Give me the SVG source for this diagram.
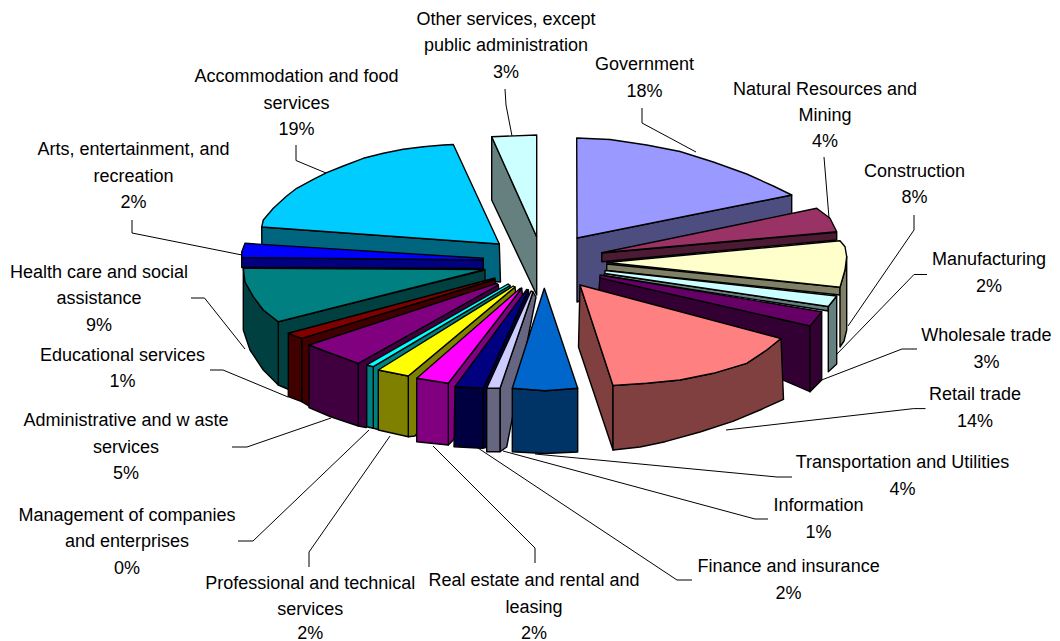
<svg xmlns="http://www.w3.org/2000/svg" width="1060" height="641" viewBox="0 0 1060 641">
<style>
polygon{stroke:#000;stroke-width:1.4;stroke-linejoin:round}
.lead{fill:none;stroke:#000;stroke-width:1}
text{font-family:"Liberation Sans",Arial,sans-serif;font-size:18px;fill:#000;text-anchor:middle}
</style>
<rect width="1060" height="641" fill="#fff"/>
<g id="other-services">
<polygon points="491.7,136.7 491.7,200 536.7,295 536.7,236.7" fill="#668080"/>
<polygon points="491.7,136.7 536.7,135 536.7,236.7" fill="#CCFFFF"/>
<text x="506" y="24.5">Other services, except</text><text x="506" y="51">public administration</text><text x="506" y="77.5">3%</text>
</g>
<g id="accommodation">
<polygon points="261.7,227 499.3,244 500.5,282 262,262" fill="#006680"/>
<polygon points="499.3,244 261.7,227 263.3,220 273.3,208.3 286.7,196 296.7,188.3 313.3,179.3 326.7,172.7 343.3,166 363.3,158.3 383.3,153.3 403.3,149.3 423.3,146.7 443.3,145 453.3,144.5" fill="#00CCFF"/>
<text x="296.5" y="82">Accommodation and food</text><text x="296.5" y="108.5">services</text><text x="296.5" y="135">19%</text>
</g>
<g id="arts">
<polygon points="241.7,257.5 483.3,260 483.3,268.5 241.7,267.5" fill="#000080"/>
<polygon points="245,243.3 483.3,258.3 483.3,260 241.7,257.5 241.7,252" fill="#0000FF"/>
<text x="133.5" y="155">Arts, entertainment, and</text><text x="133.5" y="181.5">recreation</text><text x="133.5" y="208">2%</text>
</g>
<g id="health">
<polygon points="278.3,321.7 485,270 485,285 290,390 278.3,385" fill="#004040"/>
<polygon points="243.3,268.3 245,282 253.3,296.7 263.3,310 278.3,321.7 278.3,385 263.3,370 250,350 243.3,330" fill="#004040"/>
<polygon points="243.3,268.3 485,269.5 278.3,321.7 263.3,310 253.3,296.7 245,282" fill="#008080"/>
<text x="99" y="277.5">Health care and social</text><text x="99" y="304">assistance</text><text x="99" y="330.5">9%</text>
</g>
<g id="educational">
<polygon points="301.7,338.3 495,279.5 497,300 312,408 301.7,401.7" fill="#400000"/>
<polygon points="288.3,333.3 301.7,338.3 301.7,401.7 288.3,396.7" fill="#400000"/>
<polygon points="288.3,333.3 495,278 495,279.5 301.7,338.3" fill="#800000"/>
<text x="122.5" y="360.5">Educational services</text><text x="122.5" y="387">1%</text>
</g>
<g id="administrative">
<polygon points="358.3,363.3 498.3,285 500,300 366,427.5 358.3,426" fill="#400040"/>
<polygon points="309,345 330,353 358.3,363.3 358.3,426 330,416.5 309,407.5" fill="#400040"/>
<polygon points="309,345 496.7,283.3 498.3,285 358.3,363.3 330,353" fill="#800080"/>
<text x="126" y="426">Administrative and w aste</text><text x="126" y="452.5">services</text><text x="126" y="479">5%</text>
</g>
<g id="management">
<polygon points="373.3,366.7 510,285.5 511,300 378.3,429.5 373.3,428.3" fill="#008080"/>
<polygon points="366.7,365 373.3,366.7 373.3,428.3 366.7,426.7" fill="#008080"/>
<polygon points="366.7,365 508,284 510,285.5 373.3,366.7" fill="#00FFFF"/>
<text x="127" y="520.5">Management of companies</text><text x="127" y="547">and enterprises</text><text x="127" y="573.5">0%</text>
</g>
<g id="professional">
<polygon points="408.3,376 515,287 516.5,300 415,436 408.3,436.7" fill="#808000"/>
<polygon points="378.3,370 408.3,376 408.3,436.7 378.3,430" fill="#808000"/>
<polygon points="378.3,370 513.3,286 515,287 408.3,376" fill="#FFFF00"/>
<text x="310.3" y="589">Professional and technical</text><text x="310.3" y="615">services</text><text x="310.3" y="639">2%</text>
</g>
<g id="real-estate">
<polygon points="448.3,383.3 521.7,288.3 523,300 453.3,440 448.3,445" fill="#800080"/>
<polygon points="416.7,378.3 448.3,383.3 448.3,445 416.7,441.7" fill="#800080"/>
<polygon points="416.7,378.3 520,288.5 521.7,288.3 448.3,383.3" fill="#FF00FF"/>
<text x="534" y="586">Real estate and rental and</text><text x="534" y="612.5">leasing</text><text x="534" y="639">2%</text>
</g>
<g id="finance">
<polygon points="483.3,388.3 528.3,290 530,300 488,447 482.7,448.3" fill="#000040"/>
<polygon points="455,386.7 483.3,388.3 482.7,448.3 454,446.7" fill="#000040"/>
<polygon points="455,386.7 526.7,289.5 528.3,290 483.3,388.3" fill="#000080"/>
<text x="788.6" y="572">Finance and insurance</text><text x="788.6" y="599">2%</text>
</g>
<g id="information">
<polygon points="500,388.3 533,292 536,297 506.7,447 500,451.7" fill="#666680"/>
<polygon points="486.7,388.3 500,388.3 500,451.7 486.7,451.7" fill="#666680"/>
<polygon points="486.7,388.3 531,291 533,292 500,388.3" fill="#CCCCFF"/>
<text x="818.5" y="510.5">Information</text><text x="818.5" y="537.5">1%</text>
</g>
<g id="government">
<polygon points="577,238 791.7,195 791.7,213.3 577,302" fill="#4D4D80"/>
<polygon points="577,238 576.7,138 610,139.5 646.7,145 680,151.5 713.3,162 746.7,174 773.3,186 791.7,195" fill="#9999FF"/>
<text x="644.5" y="70">Government</text><text x="644.5" y="96.5">18%</text>
</g>
<g id="natural-resources">
<polygon points="601.7,253 836.7,232.3 836.7,240 601.7,261.7" fill="#4D1A33"/>
<polygon points="601.7,252.7 816.7,208.3 830,218.3 836.7,231.7" fill="#993366"/>
<text x="825" y="94.5">Natural Resources and</text><text x="825" y="121">Mining</text><text x="825" y="147">4%</text>
</g>
<g id="construction">
<polygon points="606.7,264 840,287.3 840,295 606.7,270.5" fill="#808066"/>
<polygon points="846.7,256.7 845,270 840,287.3 840,347 844,341 846.7,330" fill="#808066"/>
<polygon points="606.7,262.5 840,240.7 845,246.7 846.7,256.7 845,270 840,287.3" fill="#FFFFCC"/>
<text x="914.5" y="176.5">Construction</text><text x="914.5" y="203">8%</text>
</g>
<g id="manufacturing">
<polygon points="605,273.5 828.3,306.5 828.3,311 603,275.5" fill="#668080"/>
<polygon points="828.3,306.5 836.7,296 836.7,364 828.3,371.7" fill="#668080"/>
<polygon points="605,270.5 836.7,296 828.3,306.5 605,273.5" fill="#CCFFFF"/>
<text x="989" y="265">Manufacturing</text><text x="989" y="291.5">2%</text>
</g>
<g id="wholesale">
<polygon points="600,277.5 810,326 810,391.7 598,300" fill="#330033"/>
<polygon points="810,326 821.7,311.7 821.7,380 810,391.7" fill="#330033"/>
<polygon points="600,275 821.7,311.7 810,326 600,278" fill="#660066"/>
<text x="986.4" y="340.5">Wholesale trade</text><text x="986.4" y="367.5">3%</text>
</g>
<g id="retail">
<polygon points="580,285 613,385.5 613,450 578.5,347" fill="#804040"/>
<polygon points="613,385.5 646.7,383.3 680,380 713.3,373.3 746.7,363.3 766.7,350 781,338.5 783.5,399.4 760,410 732.8,421.4 700,432 665.2,441.7 640,447 613,450" fill="#804040"/>
<polygon points="580,285 781,338.5 766.7,350 746.7,363.3 713.3,373.3 680,380 646.7,383.3 613,385.5" fill="#FF8080"/>
<text x="975" y="399.5">Retail trade</text><text x="975" y="426.5">14%</text>
</g>
<g id="transportation">
<polygon points="512.3,388.3 545,390.7 577.7,388.3 577.7,452 545,453.5 512.3,451.7" fill="#003366"/>
<polygon points="544.3,288.3 577.7,388.3 545,390.7 512.3,388.3" fill="#0066CC"/>
<text x="902.5" y="468">Transportation and Utilities</text><text x="902.5" y="495">4%</text>
</g>
<g id="connectors">
<polyline class="lead" points="505,89 506,105 512,136"/>
<polyline class="lead" points="642,108 642,123 696,152"/>
<polyline class="lead" points="824,157 829,218"/>
<polyline class="lead" points="914,215 914,230 848,326"/>
<polyline class="lead" points="927,274.5 914,274.5 837,354"/>
<polyline class="lead" points="917,349 902,349 819,381"/>
<polyline class="lead" points="925.5,408.6 913.7,408.6 726,430"/>
<polyline class="lead" points="792,477 777,477 535,454"/>
<polyline class="lead" points="768,519 755,519 503,451"/>
<polyline class="lead" points="692,580 677,580 478,448"/>
<polyline class="lead" points="535,563 535,548 433,446"/>
<polyline class="lead" points="309,567 309,552 390,436"/>
<polyline class="lead" points="238,541 253,541 369,430"/>
<polyline class="lead" points="232,447 247,447 331,418"/>
<polyline class="lead" points="210,370 223,370 288,397"/>
<polyline class="lead" points="191,298 204.5,298 245,349"/>
<polyline class="lead" points="132,220 132,233 242,255"/>
<polyline class="lead" points="296,145 296,160.5 326,173"/>
</g>
</svg>
